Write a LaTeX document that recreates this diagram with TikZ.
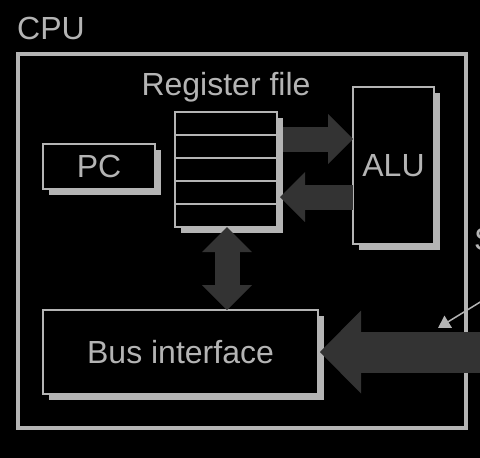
\documentclass[tikz,border=0pt]{standalone}
\usepackage{fontspec}
\setmainfont{Liberation Sans}
\usetikzlibrary{arrows.meta,positioning,shadows}
\definecolor{fggray}{HTML}{B4B4B4}
\definecolor{arrowgray}{HTML}{333333}

\begin{document}
\begin{tikzpicture}[x=1pt,y=-1pt,
	every node/.style={text=fggray,font=\fontsize{32}{38}\selectfont},
	box/.style={draw=fggray,line width=1.5pt,fill=black,inner sep=0pt,outer sep=0pt,
		general shadow={fill=fggray,shadow xshift=5.5pt,shadow yshift=-5.5pt}},
	boxlabel/.style={inner sep=0pt},
	fatarrow/.style={draw=arrowgray,line width=25pt,-{Triangle[width=50pt,length=25pt,line width=0pt]}},
	fatboth/.style={draw=arrowgray,line width=25pt,{Triangle[width=50pt,length=25pt,line width=0pt]}-{Triangle[width=50pt,length=25pt,line width=0pt]}},
	busarrow/.style={draw=arrowgray,line width=41pt,-{Triangle[width=83pt,length=41pt,line width=0pt]}},
	thinarrow/.style={draw=fggray,line width=1.5pt,-{Triangle[width=14pt,length=12pt]}}]
\useasboundingbox (0,0) rectangle (480,458);
\fill	[black]	(0,0) rectangle (480,458);

\node	[draw=fggray,line width=4pt,outer sep=0pt,minimum width=448pt,minimum height=374pt]	(cpu)	at (242,241)	{};
\node	[boxlabel]	(cpulbl)	[above right=14pt and -1pt of cpu.north west]	{CPU};
\node	[box,minimum width=112pt,minimum height=45pt]	(pc)	at (99,166.5)	{PC};
\node	[box,minimum width=102pt,minimum height=115pt]	(rf)	at (226,169.5)	{};
\node	[boxlabel]	(rflbl)	[above=10pt of rf]	{Register file};
\node	[box,minimum width=81pt,minimum height=157pt]	(alu)	at (393.5,165.5)	{ALU};
\node	[box,minimum width=275pt,minimum height=84pt]	(bus)	at (180.5,352)	{Bus interface};
\node	[boxlabel,anchor=base west]	(sb)	at (474,250)	{S};

\foreach \i in {1,...,4}
	\draw	[fggray,line width=1.5pt]	([yshift=-\i*23pt]rf.north west) -- ([yshift=-\i*23pt]rf.north east);

\coordinate	(up)		at ([xshift=6pt,yshift=30.5pt]rf.east);
\coordinate	(dn)		at ([yshift=-31.5pt]alu.west);
\coordinate	(rfbus)		at ([xshift=1pt]rf.south);
\coordinate	(sysbus)	at (490,352);
\coordinate	(sbtail)	at (490,296);
\coordinate	(sbtip)		at (438,328);

\path
	(up)		edge	[fatarrow]					(up -| alu.west)
	(dn)		edge	[fatarrow,shorten >=3pt]	(dn -| rf.east)
	(rfbus)		edge	[fatboth]					(rfbus |- bus.north)
	(sysbus)	edge	[busarrow,shorten >=2pt]	(bus.east)
	(sbtail)	edge	[thinarrow]					(sbtip)
;
\end{tikzpicture}
\end{document}
